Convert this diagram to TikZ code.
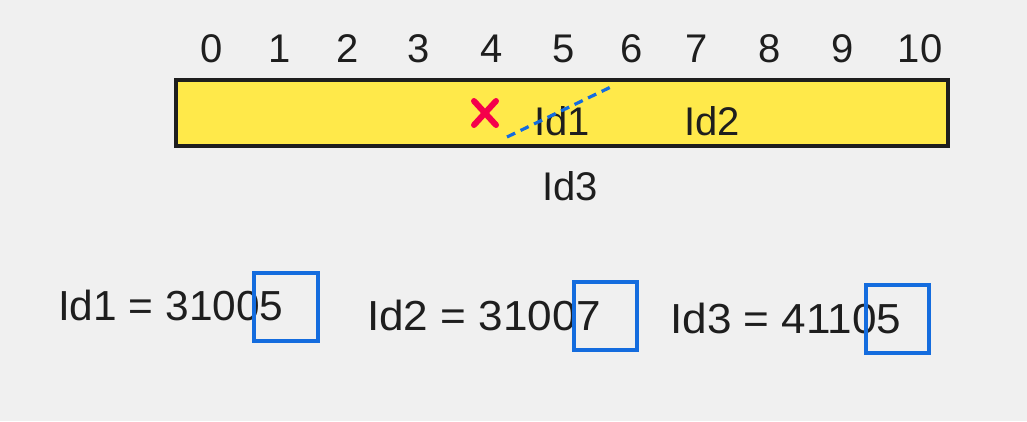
\documentclass[tikz,border=0pt]{standalone}
\usepackage{fontspec}
\setmainfont{Liberation Sans}
\usetikzlibrary{calc}
\definecolor{bg}{RGB}{240,240,240}
\definecolor{barfill}{RGB}{255,233,74}
\definecolor{ink}{RGB}{30,30,30}
\definecolor{boxblue}{RGB}{20,108,222}
\definecolor{crossred}{RGB}{245,0,75}
\tikzset{
  lbl/.style={inner sep=0pt, anchor=base, font=\fontsize{40}{44}\selectfont, text=ink},
  eqlbl/.style={inner sep=0pt, anchor=base west, font=\fontsize{42}{46}\selectfont, text=ink},
  digitbox/.style={draw=boxblue, line width=3.2pt},
}
\begin{document}
\begin{tikzpicture}[x=1pt,y=-1pt]
\fill[bg] (0,0) rectangle (1027,421);
\useasboundingbox (0,0) rectangle (1027,421);
% bar
\draw[ink, fill=barfill, line width=3.4pt] (176,80) rectangle (948,146);
% digits
\foreach \n/\x in {0/212,1/280,2/348,3/419,4/492,5/564,6/632,7/697,8/770,9/843,10/920}{
  \node[lbl] (d\n) at (\x,62) {\n};
}
% labels in bar
\node[lbl] (id1) at (562,135) {Id1};
\node[lbl] (id2) at (712,135) {Id2};
\node[lbl] (id3) at (570,200) {Id3};
% cross
\coordinate (xc) at (485,113);
\draw[crossred, line width=6pt, line cap=round] ($(xc)+(-11,-12)$) -- ($(xc)+(11,12)$);
\draw[crossred, line width=6pt, line cap=round] ($(xc)+(11,-12)$) -- ($(xc)+(-11,12)$);
% dashed line
\coordinate (ds) at (507,137);
\coordinate (de) at (615,85);
\draw[boxblue, line width=3.2pt, dash pattern=on 9pt off 6pt] (ds) -- (de);
% equations
\node[eqlbl, xscale=1.01] (e1) at (58,320) {Id1 = 31005};
\node[eqlbl, xscale=1.05] (e2) at (367,330) {Id2 = 31007};
\node[eqlbl, xscale=1.05] (e3) at (670,333) {Id3 = 41105};
\draw[digitbox] (254,273) rectangle (318,341);
\draw[digitbox] (574,282) rectangle (637,350);
\draw[digitbox] (866,285) rectangle (929,353);
\end{tikzpicture}
\end{document}
